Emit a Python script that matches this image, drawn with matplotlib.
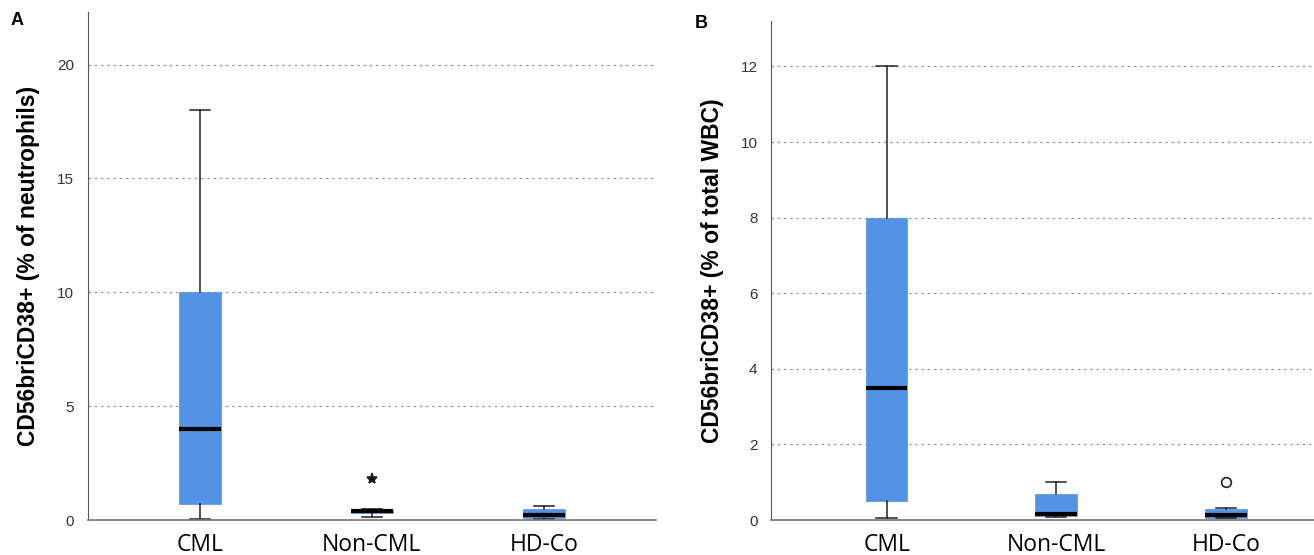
import numpy as np
import matplotlib
matplotlib.use("Agg")
import matplotlib.pyplot as plt

# categorias e valores
grupos = ["CML", "Non-CML", "HD-Co"]

# painel A: % de neutrófilos
a_whislo = [0.05, 0.12, 0.05]
a_q1 = [0.7, 0.3, 0.1]
a_med = [4.0, 0.38, 0.2]
a_q3 = [10.0, 0.45, 0.5]
a_whishi = [18.0, 0.47, 0.6]
a_outliers = [[], [1.8], []]

# painel B: % do total de leucócitos
b_whislo = [0.05, 0.08, 0.05]
b_q1 = [0.5, 0.1, 0.05]
b_med = [3.5, 0.15, 0.12]
b_q3 = [8.0, 0.7, 0.3]
b_whishi = [12.0, 1.0, 0.32]
b_outliers = [[], [], [1.0]]

cor_caixa = "#5392e4"


def montar_stats(whislo, q1, med, q3, whishi, outliers):
    stats = []
    for i in range(len(grupos)):
        stats.append(dict(label=grupos[i], whislo=whislo[i], q1=q1[i], med=med[i],
                          q3=q3[i], whishi=whishi[i], fliers=outliers[i]))
    return stats


def desenhar(ax, stats, ylim, yticks, ylabel, marcador):
    ax.bxp(stats, positions=[1, 2, 3], widths=0.245, patch_artist=True,
           boxprops=dict(facecolor=cor_caixa, edgecolor=cor_caixa, linewidth=0.5),
           medianprops=dict(color="black", linewidth=3),
           whiskerprops=dict(color="#222222", linewidth=1.1),
           capprops=dict(color="#222222", linewidth=1.1),
           capwidths=0.12,
           flierprops=dict(marker=marcador, markersize=8 if marcador == "*" else 7,
                           markerfacecolor="black" if marcador == "*" else "none",
                           markeredgecolor="#222222", markeredgewidth=1.2))
    ax.set_ylim(*ylim)
    ax.set_yticks(yticks)
    ax.tick_params(axis="y", length=0, labelsize=11, colors="#333333", pad=10)
    ax.tick_params(axis="x", length=0, pad=9)
    for lab in ax.get_xticklabels():
        lab.set_fontfamily("Open Sans")
        lab.set_fontsize(16.5)
    for y in yticks[1:]:
        ax.axhline(y, color="#999999", linestyle=(0, (2, 3)), linewidth=0.9, zorder=0)
    ax.spines["top"].set_visible(False)
    ax.spines["right"].set_visible(False)
    ax.spines["left"].set_color("#555555")
    ax.spines["bottom"].set_color("#777777")
    ax.spines["bottom"].set_linewidth(1.2)
    ax.set_ylabel(ylabel, fontsize=16.5, fontweight="bold", labelpad=12)


plt.rcParams["font.family"] = ["Liberation Sans", "DejaVu Sans"]

fig = plt.figure(figsize=(13.14, 5.55), dpi=100)
ax_a = fig.add_axes([0.067, 0.063, 0.432, 0.915])
ax_b = fig.add_axes([0.587, 0.063, 0.413, 0.899])

desenhar(ax_a, montar_stats(a_whislo, a_q1, a_med, a_q3, a_whishi, a_outliers),
         (0, 22.3), [0, 5, 10, 15, 20], "CD56briCD38+ (% of neutrophils)", "*")
ax_a.set_xlim(0.35, 3.65)

desenhar(ax_b, montar_stats(b_whislo, b_q1, b_med, b_q3, b_whishi, b_outliers),
         (0, 13.2), [0, 2, 4, 6, 8, 10, 12], "CD56briCD38+ (% of total WBC)", "o")
ax_b.set_xlim(0.32, 3.52)

fig.text(0.008, 0.955, "A", fontsize=13, fontweight="bold")
fig.text(0.529, 0.95, "B", fontsize=13, fontweight="bold")

fig.savefig("out.png", dpi=100)
